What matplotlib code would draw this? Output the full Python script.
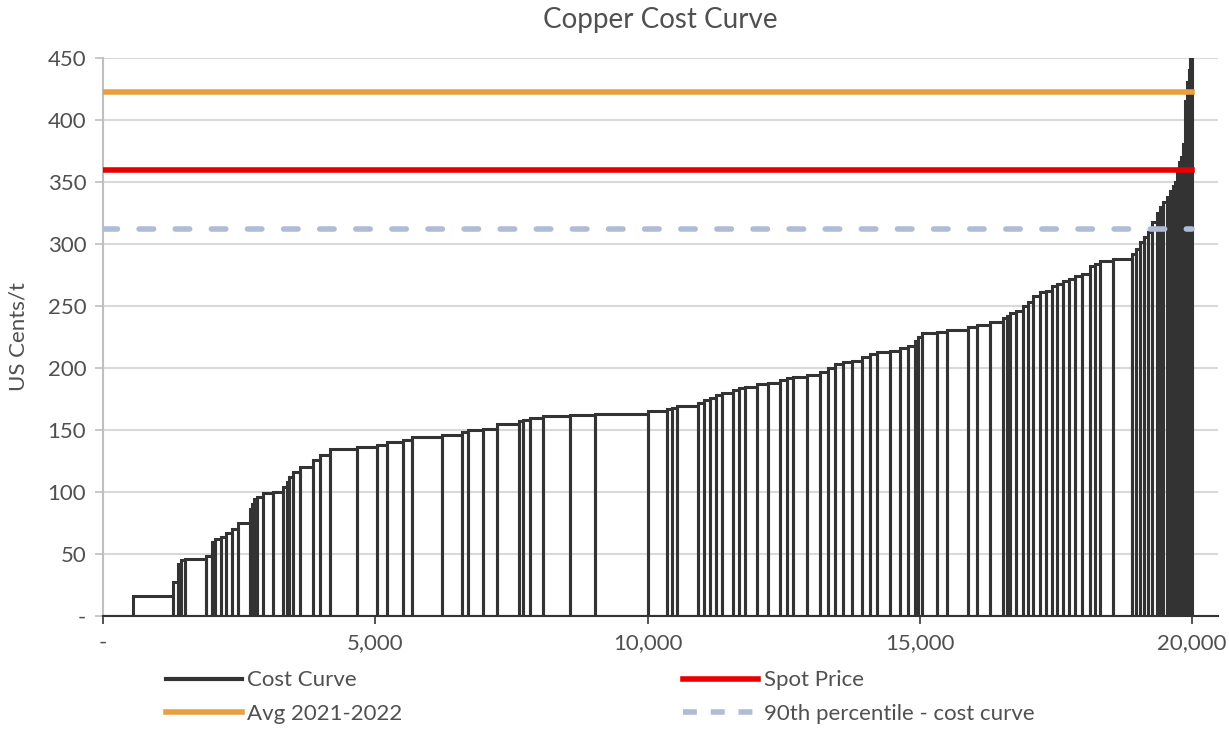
import numpy as np
import matplotlib.pyplot as plt
from matplotlib.lines import Line2D
from matplotlib.ticker import FuncFormatter, MultipleLocator

# Capacidad de cada mina (kt) y costo (US c/lb)
capacidad = [551, 734, 92, 55, 73, 386, 110, 55, 110, 92,
             110, 110, 220, 37, 37, 55, 110, 184, 184, 73,
             37, 73, 129, 239, 129, 184, 496, 367, 184, 294,
             165, 551, 367, 110, 275, 257, 404, 73, 129, 239,
             496, 459, 973, 349, 92, 92, 386, 110, 110, 110,
             110, 202, 110, 110, 220, 202, 220, 129, 110, 257,
             239, 147, 129, 147, 165, 184, 147, 129, 239, 184,
             147, 129, 55, 73, 275, 184, 386, 165, 239, 239,
             73, 55, 110, 129, 92, 92, 129, 110, 110, 92,
             110, 110, 110, 129, 147, 92, 92, 239, 349, 73,
             73, 73, 73, 73, 92, 55, 55, 73, 55, 55,
             37, 37, 37, 37, 37, 37, 37, 37, 18, 37]
costo = [-15, 16, 27, 42, 45, 46, 48, 60, 62, 64,
         67, 70, 75, 86, 90, 94, 96, 99, 100, 104,
         108, 112, 116, 120, 126, 130, 135, 136, 138, 140,
         142, 144, 146, 148, 150, 151, 155, 157, 158, 160,
         161, 162, 162.5, 165, 167, 168, 169, 172, 174, 176,
         178, 180, 182, 184, 185, 187, 188, 190, 192, 193,
         194, 197, 200, 203, 205, 206, 209, 211, 213, 214,
         216, 218, 222, 225, 228, 229, 230.5, 233, 235, 237,
         240, 242, 244, 246, 250, 253, 258, 261, 262, 266,
         268, 270, 272, 274, 276, 282, 284, 286, 288, 292,
         296, 302, 306, 310, 318, 325, 330, 334, 338, 343,
         347, 350, 357, 366, 370, 381, 415, 431, 440, 480]

spot = 360
promedio = 423
percentil_90 = 312

capacidad = np.array(capacidad, dtype=float)
costo = np.array(costo, dtype=float)
inicio = np.concatenate([[0], np.cumsum(capacidad)[:-1]])
total = capacidad.sum()

plt.rcParams['font.family'] = ['Lato', 'DejaVu Sans']
gris = '#505050'

fig = plt.figure(figsize=(12.29, 7.35), dpi=100)
ax = fig.add_axes([0.0838, 0.162, 0.907, 0.759])

ax.grid(axis='y', color='#d9d9d9', linewidth=1.5, zorder=0)

# curva de costos (cada mina como rectangulo sin relleno)
ax.bar(inicio, costo, width=capacidad, align='edge', fill=False,
       edgecolor='#333333', linewidth=2.2, zorder=2)

ax.plot([0, total], [promedio, promedio], color='#E8A040', linewidth=4, zorder=3)
ax.plot([0, total], [spot, spot], color='#E80000', linewidth=4, zorder=3)
ax.plot([0, total], [percentil_90, percentil_90], color='#B0BCD6', linewidth=4,
        dashes=(2.6, 3.9), solid_capstyle='round', dash_capstyle='round', zorder=3)

ax.set_xlim(0, 20470)
ax.set_ylim(0, 450)
ax.xaxis.set_major_locator(MultipleLocator(5000))
ax.yaxis.set_major_locator(MultipleLocator(50))
fmt = FuncFormatter(lambda v, p: '-' if v == 0 else f'{v:,.0f}')
ax.xaxis.set_major_formatter(fmt)
ax.yaxis.set_major_formatter(fmt)

for s in ['top', 'right']:
    ax.spines[s].set_visible(False)
ax.spines['left'].set_color('#bfbfbf')
ax.spines['left'].set_linewidth(1.5)
ax.spines['bottom'].set_color('#333333')
ax.spines['bottom'].set_linewidth(1.5)
ax.tick_params(axis='x', colors='#333333', labelcolor=gris, labelsize=16,
               length=6, width=1.2, pad=6)
ax.tick_params(axis='y', colors='#bfbfbf', labelcolor=gris, labelsize=16,
               length=6, width=1.2, pad=6)

ax.set_ylabel('US Cents/t', fontsize=16, color=gris, labelpad=14)
ax.set_title('Copper Cost Curve', fontsize=20, color=gris, pad=22)

handles = [Line2D([], [], color='#333333', linewidth=3),
           Line2D([], [], color='#E8A040', linewidth=4),
           Line2D([], [], color='#E80000', linewidth=4),
           Line2D([], [], color='#B0BCD6', linewidth=4, dashes=(2.5, 2.5))]
labels = ['Cost Curve', 'Avg 2021-2022', 'Spot Price', '90th percentile - cost curve']
fig.legend(handles, labels, ncol=2, loc='lower left', bbox_to_anchor=(0.119, -0.012),
           frameon=False, fontsize=16, labelcolor=gris, handlelength=3.4,
           handletextpad=0.25, columnspacing=12.6, labelspacing=0.6)

fig.savefig('out.png', dpi=100)
